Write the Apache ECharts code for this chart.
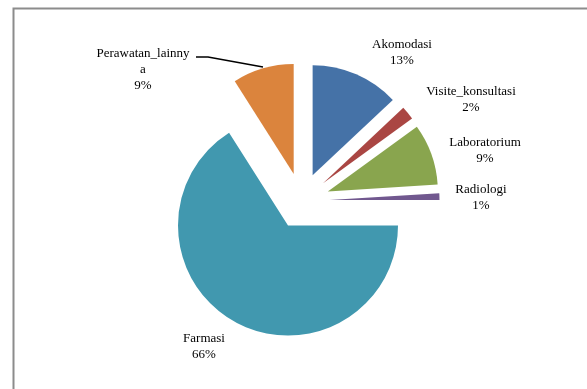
<!DOCTYPE html>
<html>
<head>
<meta charset="utf-8">
<script src="https://cdn.jsdelivr.net/npm/echarts@6/dist/echarts.min.js"></script>
<style>
  html, body { margin: 0; padding: 0; background: #ffffff; }
  #chart { width: 587px; height: 389px; }
</style>
</head>
<body>
<div id="chart"></div>
<script>
// Cost components, clockwise from 12 o'clock
var categories = ['Akomodasi', 'Visite_konsultasi', 'Laboratorium', 'Radiologi', 'Farmasi', 'Perawatan_lainnya'];
var shares = [13, 2, 9, 1, 66, 9];
var colors = ['#4572A7', '#AA4643', '#89A54E', '#71588F', '#4198AF', '#DB843D'];

// Pie geometry: common centre, radius and how far every slice is pulled out
var pieCenter = [301.5, 201];
var pieRadius = 110;
var explode = 28;

// Where each label block sits (centre of the text block), in pixels
var labelSpots = [[402, 53], [471, 100], [485, 151], [481, 198], [204, 347], [143, 70]];
// Leader line for the wrapped label on the upper left
var leaderLine = [[196, 57], [208, 57], [263, 67]];

var serifFont = "'Liberation Serif', 'Times New Roman', serif";

var chart = echarts.init(document.getElementById('chart'), null, { renderer: 'canvas' });

var total = shares.reduce(function (a, b) { return a + b; }, 0);
var series = [];
var before = 0;

categories.forEach(function (name, i) {
  var share = shares[i];
  var startDeg = 90 - before / total * 360;
  var midRad = (before + share / 2) / total * 2 * Math.PI;
  var center = [
    pieCenter[0] + explode * Math.sin(midRad),
    pieCenter[1] - explode * Math.cos(midRad)
  ];
  before += share;

  var slice = {
    name: name,
    value: share,
    itemStyle: { color: colors[i] }
  };
  if (i === 5) {
    // long name wraps onto a second line
    slice.label = { width: 96, overflow: 'breakAll' };
    slice.labelLine = { show: true };
  }

  series.push({
    type: 'pie',
    center: center,
    radius: pieRadius,
    startAngle: startDeg,
    clockwise: true,
    avoidLabelOverlap: false,
    silent: true,
    itemStyle: { borderWidth: 0 },
    emphasis: { disabled: true, scale: false },
    data: [
      slice,
      {
        name: '',
        value: total - share,
        itemStyle: { color: 'rgba(0,0,0,0)' },
        label: { show: false },
        labelLine: { show: false }
      }
    ],
    label: {
      show: true,
      position: 'outside',
      formatter: '{b}\n{d}%',
      fontFamily: serifFont,
      fontSize: 13,
      lineHeight: 16,
      color: '#000000',
      align: 'center'
    },
    labelLine: {
      show: false,
      lineStyle: { color: '#000000', width: 1.5 }
    },
    labelLayout: function (params) {
      if (params.dataIndex !== 0) { return {}; }
      var p = labelSpots[i];
      var out = { x: p[0], y: p[1], align: 'center', verticalAlign: 'middle' };
      if (i === 5) { out.labelLinePoints = leaderLine; }
      return out;
    }
  });
});

chart.setOption({
  animation: false,
  backgroundColor: '#ffffff',
  graphic: [{
    type: 'rect',
    shape: { x: 13.5, y: 8.5, width: 600, height: 400 },
    style: { fill: 'none', stroke: '#8c8c8c', lineWidth: 2 },
    silent: true
  }],
  series: series
});
</script>
</body>
</html>
